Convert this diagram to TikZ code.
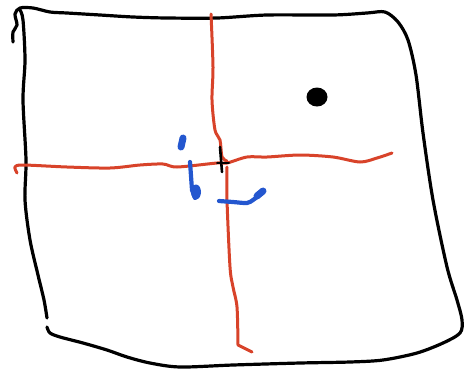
\documentclass[tikz,border=0pt]{standalone}
\usepackage{xcolor}
\usepackage{tikz}
\definecolor{inkred}{HTML}{D8432A}
\definecolor{inkblue}{HTML}{2457CF}

\begin{document}
\begin{tikzpicture}[
  x=1pt, y=-1pt,
  pen/.style ={black, line width=3.2pt, line cap=round, line join=round},
  rln/.style ={inkred, line width=3pt, line cap=round, line join=round},
  bln/.style ={inkblue, line width=4.2pt, line cap=round, line join=round}
]
\useasboundingbox (0,0) rectangle (468,373);

% ---------- outline ----------
\draw[pen] plot[smooth, tension=0.5] coordinates {
  (13,42) (13,32) (17,25) (15,14) (20,8) (33,8) (50,12) (67,13) (100,15)
  (133,17) (167,18) (217,18) (267,15) (333,15) (367,13) (385,12) (398,22)
  (408,40) (416,75) (423,133) (433,200) (447,267) (457,300) (462,320)
  (460,333) (443,343) (417,353) (383,360) (350,362) (300,363) (233,365)
  (180,367) (150,363) (127,357) (107,350) (83,343) (60,337) (50,333) (47,327)};
\draw[pen] plot[smooth, tension=0.5] coordinates {
  (20,10) (23,20) (25,60) (23,100) (26,160) (25,200) (30,240) (38,275)
  (44,300) (47,318)};

% ---------- axes ----------
\draw[rln] plot[smooth, tension=0.5] coordinates {
  (211,14) (213,67) (212,100) (215,130) (220,140) (222,157) (227,161)};
\draw[rln] plot[smooth, tension=0.5] coordinates {
  (227,167) (227,200) (230,267) (233,287) (237,307) (238,345)} -- (252,352);
\draw[rln] plot[smooth, tension=0.5] coordinates {
  (17,173) (15,167) (23,165) (67,167) (110,168) (140,165) (163,164)
  (177,167) (217,163) (227,163) (247,157) (267,157) (300,155) (333,157)
  (360,162) (377,158) (392,153)};

% ---------- origin mark ----------
\draw[pen, line width=2.6pt] (220,147) -- (222,172);
\draw[pen, line width=2pt] (217,163) -- (229,163);

% ---------- point ----------
\fill[black] (317,97) ellipse (10.5 and 9.5);

% ---------- blue marks ----------
\draw[bln, line width=7pt] (183,138) -- (181,147);
\draw[bln] (190,162) -- (192,190) -- (195,198);
\fill[inkblue] (196,192) ellipse (5 and 7.5);
\draw[bln] plot[smooth, tension=0.5] coordinates {
  (219,201) (233,202) (247,203) (253,200) (257,197)};
\draw[bln, line width=7pt] (257,196) -- (263,191);
\end{tikzpicture}
\end{document}
